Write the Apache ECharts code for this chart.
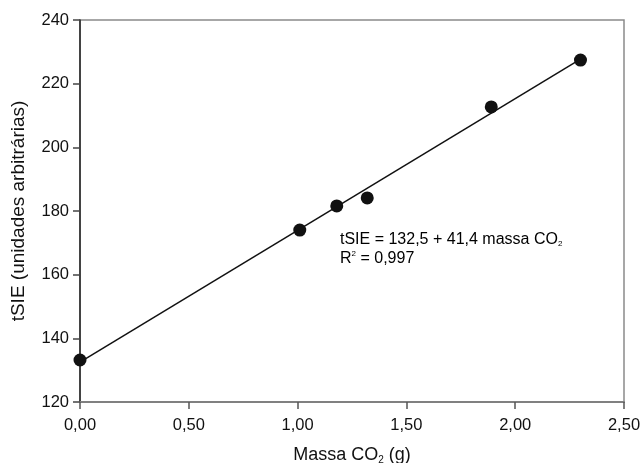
<!DOCTYPE html>
<html>
<head>
<meta charset="utf-8">
<script src="https://cdn.jsdelivr.net/npm/echarts@6/dist/echarts.min.js"></script>
<style>
  html, body { margin: 0; padding: 0; background: #fff; }
  #chart { width: 641px; height: 463px; }
</style>
</head>
<body>
<div id="chart"></div>
<script>
// massa de CO2 (g) e sinal tSIE
const massaCO2 = [0.00, 1.01, 1.18, 1.32, 1.89, 2.30]
const tSIE = [133.2, 174.0, 181.6, 184.1, 212.7, 227.4]

// reta de regressão: tSIE = 132,5 + 41,4 massa CO2
const fitX = [0.00, 2.30]
const fitY = [132.5, 227.7]

const font = 'Liberation Sans, Arial, Helvetica, sans-serif'
const ink = '#111'

const fmt = v => v.toFixed(2).replace('.', ',')

const chart = echarts.init(document.getElementById('chart'))

const option = {
  backgroundColor: '#fff',
  animation: false,
  grid: {
    left: 80, right: 17, top: 20, bottom: 61,
    containLabel: false,
    outerBoundsMode: 'none',
    show: true, borderColor: '#8a8a8a', borderWidth: 1.5
  },
  xAxis: {
    type: 'value',
    min: 0, max: 2.5, interval: 0.5,
    name: '{n|Massa CO}{s|2}{n| (g)}',
    nameLocation: 'middle',
    nameGap: 43,
    nameTextStyle: {
      rich: {
        n: { fontFamily: font, fontSize: 18, color: ink },
        s: { fontFamily: font, fontSize: 10, color: ink, padding: [10, 0, 0, 0] }
      }
    },
    axisLine: { lineStyle: { color: '#808080', width: 2 } },
    axisTick: { show: true, length: 7, lineStyle: { color: '#555', width: 1.5 } },
    axisLabel: { formatter: fmt, fontFamily: font, fontSize: 16.5, color: ink, margin: 15 },
    splitLine: { show: false }
  },
  yAxis: {
    type: 'value',
    min: 120, max: 240, interval: 20,
    name: 'tSIE (unidades arbitrárias)',
    nameLocation: 'middle',
    nameGap: 52,
    nameTextStyle: { fontFamily: font, fontSize: 19, color: ink },
    axisLine: { lineStyle: { color: '#222', width: 1.5 } },
    axisTick: { show: true, length: 7, lineStyle: { color: '#444', width: 1.5 } },
    axisLabel: { fontFamily: font, fontSize: 16.5, color: ink, margin: 11 },
    splitLine: { show: false }
  },
  graphic: [
    {
      type: 'text',
      left: 340,
      top: 231,
      style: {
        text: '{n|tSIE = 132,5 + 41,4 massa CO}{s|2}\n{n|R}{p|2}{n| = 0,997}',
        rich: {
          n: { fontFamily: font, fontSize: 16, color: ink, lineHeight: 19 },
          s: { fontFamily: font, fontSize: 8, color: ink, padding: [9, 0, 0, 0], lineHeight: 19 },
          p: { fontFamily: font, fontSize: 8, color: ink, padding: [0, 0, 9, 0], lineHeight: 19 }
        }
      }
    }
  ],
  series: [
    {
      type: 'line',
      data: fitX.map((x, i) => [x, fitY[i]]),
      symbol: 'none',
      lineStyle: { color: ink, width: 1.5 },
      z: 2
    },
    {
      type: 'scatter',
      data: massaCO2.map((x, i) => [x, tSIE[i]]),
      symbol: 'circle',
      symbolSize: 13,
      itemStyle: { color: ink, opacity: 1 },
      z: 3
    }
  ]
}

chart.setOption(option)
</script>
</body>
</html>
